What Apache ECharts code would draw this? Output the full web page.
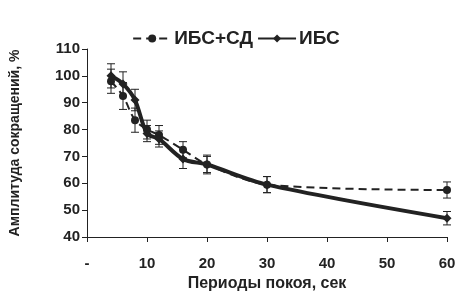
<!DOCTYPE html>
<html>
<head>
<meta charset="utf-8">
<script src="https://cdn.jsdelivr.net/npm/echarts@6/dist/echarts.min.js"></script>
<style>
  html, body { margin: 0; padding: 0; background: #fff; }
  #chart { width: 472px; height: 299px; }
</style>
</head>
<body>
<div id="chart"></div>
<script>
// периоды покоя, сек
const periods = [4, 6, 8, 10, 12, 16, 20, 30, 60];
// ИБС+СД
const ibsSd = [98, 92.5, 83.5, 80, 78, 72.5, 67, 59.5, 57.5];
const ibsSdErr = [4.5, 5, 4.5, 3.5, 3.5, 3, 3, 3, 3];
// ИБС
const ibs = [100, 97, 91, 78.5, 76.5, 69, 67, 59.5, 47];
const ibsErr = [4.5, 4.5, 4, 3, 3, 3.5, 3.5, 3, 2.5];
const yTicks = [40, 50, 60, 70, 80, 90, 100, 110];

const ink = '#222';
const font = 'Liberation Sans, Arial, sans-serif';

const myChart = echarts.init(document.getElementById('chart'));

function errorSeries(vals, errs) {
  return {
    type: 'custom',
    silent: true,
    z: 1,
    data: periods.map((p, i) => [p, vals[i] - errs[i], vals[i] + errs[i]]),
    renderItem: function (params, api) {
      const lo = api.coord([api.value(0), api.value(1)]);
      const hi = api.coord([api.value(0), api.value(2)]);
      const w = 4;
      const st = { stroke: ink, lineWidth: 1 };
      return {
        type: 'group',
        children: [
          { type: 'line', shape: { x1: lo[0], y1: lo[1], x2: hi[0], y2: hi[1] }, style: st },
          { type: 'line', shape: { x1: lo[0] - w, y1: lo[1], x2: lo[0] + w, y2: lo[1] }, style: st },
          { type: 'line', shape: { x1: hi[0] - w, y1: hi[1], x2: hi[0] + w, y2: hi[1] }, style: st }
        ]
      };
    }
  };
}

const option = {
  animation: false,
  textStyle: { fontFamily: font },
  legend: {
    top: 24,
    left: 'center',
    itemWidth: 38,
    itemHeight: 10,
    itemGap: 4,
    textStyle: { fontSize: 19, fontWeight: 'bold', color: ink, fontFamily: font, padding: [0, 0, 0, -2] },
    data: ['ИБС+СД', 'ИБС']
  },
  grid: { left: 86, right: 25, top: 49, bottom: 62 },
  xAxis: {
    type: 'value',
    min: 0,
    max: 60,
    interval: 10,
    name: 'Периоды покоя, сек',
    nameLocation: 'middle',
    nameGap: 37,
    nameTextStyle: { fontSize: 16, fontWeight: 'bold', color: ink },
    axisLine: { lineStyle: { color: ink, width: 1 } },
    axisTick: { show: true, length: 5, lineStyle: { color: ink } },
    axisLabel: {
      fontSize: 15, fontWeight: 'bold', color: ink, margin: 19,
      formatter: v => (v === 0 ? '-' : String(v))
    },
    splitLine: { show: false }
  },
  yAxis: {
    type: 'value',
    min: yTicks[0],
    max: yTicks[yTicks.length - 1],
    interval: 10,
    name: 'Амплитуда сокращений, %',
    nameLocation: 'middle',
    nameGap: 65,
    nameTextStyle: { fontSize: 14, fontWeight: 'bold', color: ink },
    axisLine: { show: true, lineStyle: { color: ink, width: 1 } },
    axisTick: { show: true, length: 5, inside: false, lineStyle: { color: ink } },
    axisLabel: { fontSize: 15, fontWeight: 'bold', color: ink, margin: 7 },
    splitLine: { show: false }
  },
  series: [
    errorSeries(ibsSd, ibsSdErr),
    errorSeries(ibs, ibsErr),
    {
      name: 'ИБС+СД',
      type: 'line',
      smooth: 0.3,
      z: 3,
      data: periods.map((p, i) => [p, ibsSd[i]]),
      symbol: 'circle',
      symbolSize: 8,
      itemStyle: { color: ink },
      lineStyle: { color: ink, width: 2, type: [8, 5] }
    },
    {
      name: 'ИБС',
      type: 'line',
      smooth: 0.3,
      z: 4,
      data: periods.map((p, i) => [p, ibs[i]]),
      symbol: 'diamond',
      symbolSize: 9,
      itemStyle: { color: ink },
      lineStyle: { color: ink, width: 4 }
    }
  ]
};

option && myChart.setOption(option);
</script>
</body>
</html>
